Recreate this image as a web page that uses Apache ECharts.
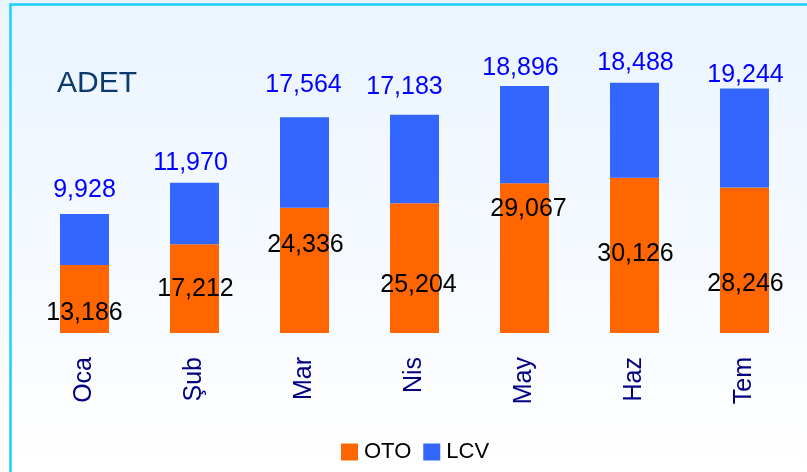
<!DOCTYPE html>
<html>
<head>
<meta charset="utf-8">
<script src="https://cdn.jsdelivr.net/npm/echarts@6/dist/echarts.min.js"></script>
<style>html,body{margin:0;padding:0;}#c{width:807px;height:472px;}</style>
</head>
<body>
<div id="c"></div>
<script>
const categories = ['Oca', 'Şub', 'Mar', 'Nis', 'May', 'Haz', 'Tem'];
const otoValues = [13186, 17212, 24336, 25204, 29067, 30126, 28246];
const lcvValues = [9928, 11970, 17564, 17183, 18896, 18488, 19244];
// label offsets (px) relative to the middle of each bar segment
const otoLabelOffsets = [[0, 14], [1, 0], [1, -25], [4, 17], [4, -49], [1, -1], [1, 24]];
const lcvLabelOffsets = [[0, -49], [-4, -50], [-1, -77], [-10, -72], [-4, -67], [1, -67], [1, -63]];

const FONT = '"Liberation Sans", Arial, sans-serif';
const chart = echarts.init(document.getElementById('c'), null, {renderer: 'canvas'});

const fmt = v => v.toLocaleString('en-US');

chart.setOption({
  animation: false,
  backgroundColor: {
    type: 'linear', x: 0, y: 0, x2: 0, y2: 1,
    colorStops: [{offset: 0, color: '#EAF4FF'}, {offset: 1, color: '#FFFFFF'}]
  },
  textStyle: {fontFamily: FONT},
  graphic: [
    {type: 'rect', shape: {x: 10.5, y: 4.5, width: 900, height: 900},
     style: {fill: 'none', stroke: '#1AD0FF', lineWidth: 2.5}, z: 0},
    {type: 'text', left: 57, top: 69,
     style: {text: 'ADET', fill: '#0B3A6E', font: '30px ' + FONT}}
  ],
  grid: {left: 29.5, right: 7.5, top: 24, bottom: 139, containLabel: false},
  xAxis: {
    type: 'category', data: categories,
    axisLine: {show: false}, axisTick: {show: false},
    axisLabel: {rotate: 90, margin: 24, color: '#000080', fontSize: 25, fontFamily: FONT}
  },
  yAxis: {
    type: 'value', min: 0, max: 60000, show: false,
    splitLine: {show: false}
  },
  legend: {
    data: ['OTO', 'LCV'], left: 336, top: 436,
    icon: 'rect', itemWidth: 17, itemHeight: 17, itemGap: 12,
    textStyle: {fontSize: 22, color: '#000000', fontFamily: FONT, padding: [0, 0, 0, 1]}
  },
  series: [
    {
      name: 'OTO', type: 'bar', stack: 'a', barWidth: 49,
      itemStyle: {color: '#FF6600'},
      data: otoValues.map((v, i) => ({
        value: v,
        label: {show: true, position: 'inside', offset: otoLabelOffsets[i],
          formatter: p => fmt(p.value), color: '#000000', fontSize: 25, fontFamily: FONT}
      }))
    },
    {
      name: 'LCV', type: 'bar', stack: 'a', barWidth: 49,
      itemStyle: {color: '#3366FF'},
      data: lcvValues.map((v, i) => ({
        value: v,
        label: {show: true, position: 'inside', offset: lcvLabelOffsets[i],
          formatter: p => fmt(p.value), color: '#0000FF', fontSize: 25, fontFamily: FONT}
      }))
    }
  ]
});
</script>
</body>
</html>
